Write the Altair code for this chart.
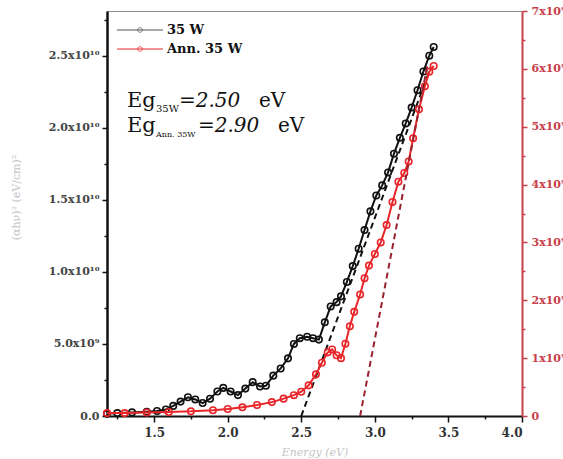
import altair as alt
import pandas as pd

# ---- data ----
energy_35w = [1.18, 1.25, 1.35, 1.45, 1.52, 1.58, 1.63, 1.68, 1.73, 1.78, 1.83, 1.88,
              1.93, 1.97, 2.02, 2.07, 2.12, 2.17, 2.22, 2.26, 2.31, 2.36, 2.41, 2.45,
              2.49, 2.54, 2.58, 2.62, 2.66, 2.70, 2.74, 2.77, 2.81, 2.85, 2.89, 2.93,
              2.97, 3.01, 3.05, 3.09, 3.13, 3.17, 3.21, 3.25, 3.29, 3.33, 3.37, 3.40]
value_35w_e9 = [0.15, 0.2, 0.25, 0.3, 0.35, 0.45, 0.7, 1.0, 1.3, 1.15, 0.9, 1.2,
                1.7, 1.95, 1.7, 1.45, 1.9, 2.35, 2.05, 2.1, 2.8, 3.3, 4.0, 5.0,
                5.4, 5.5, 5.4, 5.3, 6.5, 7.6, 7.9, 8.3, 9.3, 10.4, 11.6, 12.9,
                14.2, 15.3, 16.0, 16.9, 18.2, 19.3, 20.3, 21.4, 22.6, 23.9, 25.0, 25.6]

energy_ann = [1.18, 1.3, 1.45, 1.6, 1.75, 1.9, 2.0, 2.1, 2.2, 2.3, 2.38, 2.45,
              2.5, 2.55, 2.6, 2.64, 2.68, 2.71, 2.74, 2.77, 2.8, 2.83, 2.86, 2.9,
              2.93, 2.96, 3.0, 3.04, 3.08, 3.12, 3.16, 3.2, 3.23, 3.26, 3.3, 3.34,
              3.37, 3.40]
value_ann = [0.05, 0.05, 0.06, 0.07, 0.08, 0.1, 0.12, 0.15, 0.19, 0.24, 0.3, 0.36,
             0.42, 0.53, 0.72, 0.92, 1.1, 1.15, 1.05, 1.0, 1.25, 1.55, 1.8, 2.1,
             2.38, 2.6, 2.8, 3.0, 3.3, 3.7, 4.05, 4.2, 4.4, 4.8, 5.3, 5.7,
             5.95, 6.05]

fit_35w_energy = [2.50, 3.38]
fit_35w_value_e9 = [0.0, 24.2]
fit_ann_energy = [2.90, 3.36]
fit_ann_value = [0.0, 6.1]

x_ticks = [1.25, 1.5, 1.75, 2.0, 2.25, 2.5, 2.75, 3.0, 3.25, 3.5, 3.75, 4.0]
left_ticks_e9 = [0, 2.5, 5, 7.5, 10, 12.5, 15, 17.5, 20, 22.5, 25, 27.5]
right_ticks = [0, 0.5, 1, 1.5, 2, 2.5, 3, 3.5, 4, 4.5, 5, 5.5, 6, 6.5, 7]

series_names = ["35 W", "Ann. 35 W"]

# ---- tables ----
df_35 = pd.DataFrame({"E": energy_35w, "v": [v * 1e9 for v in value_35w_e9]})
df_ann = pd.DataFrame({"E": energy_ann, "v": value_ann})
df_fit35 = pd.DataFrame({"E": fit_35w_energy, "v": [v * 1e9 for v in fit_35w_value_e9]})
df_fitann = pd.DataFrame({"E": fit_ann_energy, "v": fit_ann_value})

BLACK = "#111111"
RED = "#e8262a"
RED_AXIS = "#c8404a"
SERIF = "DejaVu Serif"

x_enc = alt.X(
    "E:Q",
    scale=alt.Scale(domain=[1.18, 4.0], nice=False, zero=False),
    axis=alt.Axis(
        values=x_ticks,
        labelExpr="round(datum.value*4) % 2 == 1 ? '' : format(datum.value, '.1f')",
        tickSize={"condition": {"test": "round(datum.value*4) % 2 == 1", "value": 3}, "value": 6},
        tickColor=BLACK, tickWidth=1.5,
        domainColor=BLACK, domainWidth=2,
        labelFont=SERIF, labelFontWeight="bold", labelFontSize=12, labelColor="#333333",
        labelPadding=5, grid=False,
        title="Energy (eV)", titleFont=SERIF, titleFontStyle="italic",
        titleFontWeight="normal", titleFontSize=11, titleColor="#c4c4c4", titlePadding=8,
    ),
)

y_left = alt.Y(
    "v:Q",
    scale=alt.Scale(domain=[0, 2.81e10], nice=False),
    axis=alt.Axis(
        values=[v * 1e9 for v in left_ticks_e9],
        labelExpr=("round(datum.value/2.5e9) % 2 == 1 ? '' : datum.value == 0 ? '0.0' : "
                   "datum.value < 1e10 ? format(datum.value/1e9, '.1f') + 'x10⁹' : "
                   "format(datum.value/1e10, '.1f') + 'x10¹⁰'"),
        tickSize={"condition": {"test": "round(datum.value/2.5e9) % 2 == 1", "value": 3}, "value": 5},
        tickColor=BLACK, tickWidth=1.5,
        domainColor=BLACK, domainWidth=2.5,
        labelFont=SERIF, labelFontWeight="bold", labelFontSize=11, labelColor="#444444",
        labelPadding=3, grid=False,
        title="(αhν)² (eV/cm)²", titleFont=SERIF, titleFontWeight="normal",
        titleFontSize=11, titleColor="#c4c4c4", titleX=-86, titleY=186,
    ),
)

y_right = alt.Y(
    "v:Q",
    scale=alt.Scale(domain=[0, 7], nice=False),
    axis=alt.Axis(
        orient="right",
        values=right_ticks,
        labelExpr="datum.value % 1 != 0 ? '' : datum.value == 0 ? '0' : datum.value + 'x10⁹'",
        tickSize={"condition": {"test": "datum.value % 1 != 0", "value": 3}, "value": 5},
        tickColor=RED_AXIS, tickWidth=1.5,
        domainColor=RED_AXIS, domainWidth=2,
        labelFont=SERIF, labelFontWeight="bold", labelFontSize=11, labelColor=RED_AXIS,
        labelPadding=4, grid=False, title=None,
    ),
)

black_line = alt.Chart(df_35).mark_line(color=BLACK, strokeWidth=2).encode(x=x_enc, y=y_left)
black_pts = alt.Chart(df_35).mark_point(shape="circle", filled=False, color=BLACK,
                                        size=42, strokeWidth=1.6, opacity=1).encode(x=x_enc, y=y_left)
black_fit = alt.Chart(df_fit35).mark_line(color=BLACK, strokeWidth=2, strokeDash=[6, 4]).encode(x=x_enc, y=y_left)

red_line = alt.Chart(df_ann).mark_line(color=RED, strokeWidth=2).encode(x=x_enc, y=y_right)
red_pts = alt.Chart(df_ann).mark_point(shape="circle", filled=False, color=RED,
                                       size=42, strokeWidth=1.6, opacity=1).encode(x=x_enc, y=y_right)
red_fit = alt.Chart(df_fitann).mark_line(color="#9a2230", strokeWidth=2, strokeDash=[6, 4]).encode(x=x_enc, y=y_right)

# ---- legend (drawn inside the plot, top-left) ----
def legend_entry(name, color, ypx):
    d = pd.DataFrame({"name": [name]})
    rule = alt.Chart(d).mark_rule(color=color, strokeWidth=1).encode(
        x=alt.value(10), x2=alt.value(56), y=alt.value(ypx))
    pt = alt.Chart(d).mark_point(shape="circle", filled=False, color=color, size=22, strokeWidth=1).encode(
        x=alt.value(33), y=alt.value(ypx))
    txt = alt.Chart(d).mark_text(align="left", baseline="middle", font=SERIF, fontWeight="bold",
                                 fontSize=13, color=BLACK).encode(
        x=alt.value(60), y=alt.value(ypx), text="name:N")
    return [rule, pt, txt]

legend_layers = legend_entry(series_names[0], "#555555", 19) + legend_entry(series_names[1], RED, 38)

# ---- band-gap annotations ----
def txt(s, xpx, ypx, size, style="normal", baseline="alphabetic"):
    return alt.Chart(pd.DataFrame({"t": [s]})).mark_text(
        align="left", baseline=baseline, font=SERIF, fontSize=size, fontStyle=style, color=BLACK
    ).encode(x=alt.value(xpx), y=alt.value(ypx), text="t:N")

annot = [
    txt("Eg", 20, 96, 21), txt("35W", 49, 101, 10), txt("=2.50", 72, 96, 20, "italic"), txt("eV", 152, 96, 20),
    txt("Eg", 20, 121, 21), txt("Ann. 35W", 49, 126, 8), txt("=2.90", 91, 121, 20, "italic"), txt("eV", 171, 121, 20),
]

left = alt.layer(black_line, black_pts, black_fit, *legend_layers, *annot)
right = alt.layer(red_line, red_pts, red_fit)

chart = alt.layer(left, right).resolve_scale(y="independent").properties(
    width=415, height=405,
    autosize=alt.AutoSizeParams(type="none"),
    padding={"left": 107, "top": 11, "right": 41, "bottom": 43},
    background="white",
).configure_view(stroke="#8a8a8a", strokeWidth=1)

chart.save("out.html", embed_options={"renderer": "svg", "actions": False})
